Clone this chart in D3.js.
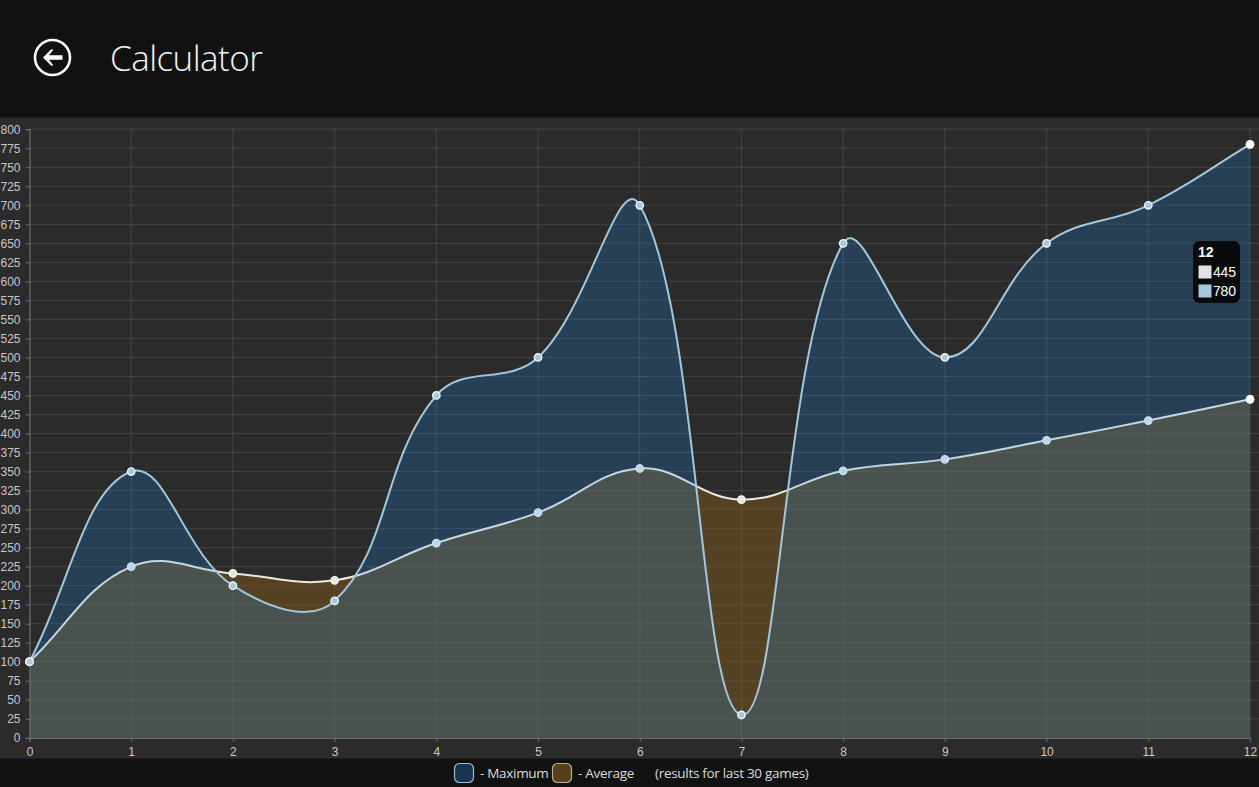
<!DOCTYPE html>
<html><head><meta charset="utf-8">
<script src="https://cdn.jsdelivr.net/npm/d3@7"></script>
<style>
html,body{margin:0;padding:0;background:#111;overflow:hidden}
svg{display:block}
</style></head><body>
<svg id="c" width="1259" height="787"></svg>
<script>
const titleText = "Calculator";
const categories = [0,1,2,3,4,5,6,7,8,9,10,11,12];
const maximumValues = [100,350,200,180,450,500,700,30,650,500,650,700,780];
const averageValues = [100,225,216,207,256,296,354,313,351,366,391,417,445];
const yTicks = d3.range(0,801,25);
const legendItems = ["- Maximum","- Average"];
const legendNote = "(results for last 30 games)";
const hoverIndex = 12;

const svg = d3.select("#c");
const x = d3.scaleLinear().domain([0,12]).range([29.5,1250]);
const y = d3.scaleLinear().domain([0,800]).range([737.8,129.2]);
const sans = "'Liberation Sans',Arial,sans-serif";
const ui = "'Open Sans',sans-serif";

svg.append("rect").attr("width",1259).attr("height",787).attr("fill","#111111");
svg.append("rect").attr("y",117.5).attr("width",1259).attr("height",641).attr("fill","#2b2b2b");

// header
svg.append("text").attr("x",110).attr("y",70.5).attr("fill","#f4f4f4")
  .style("font-family",ui).style("font-weight",300).style("font-size","35px").style("letter-spacing","-0.55px").text(titleText);
const back = svg.append("g").attr("transform","translate(52.5,57.5)");
back.append("circle").attr("r",17.5).attr("fill","none").attr("stroke","#fff").attr("stroke-width",2.6);
back.append("path").attr("d","M-9.5,0 L-1.5,-8 L1,-8 L-3.5,-2.2 L10,-2.2 L10,2.2 L-3.5,2.2 L1,8 L-1.5,8 Z").attr("fill","#fff");

// grid and axes
const gy = svg.append("g").attr("transform","translate(29.5,0)")
  .call(d3.axisLeft(y).tickValues(yTicks).tickSize(4).tickPadding(5));
const gx = svg.append("g").attr("transform","translate(0,737.8)")
  .call(d3.axisBottom(x).tickValues(categories).tickFormat(d3.format("d")).tickSize(4).tickPadding(6));
[gx,gy].forEach(g=>{
  g.selectAll("text").attr("fill","#c8c8c8").style("font-family",sans).style("font-size","12px");
  g.selectAll("line").attr("stroke","#6a6a6a");
  g.select(".domain").attr("stroke","#6f6f6f").attr("stroke-width",1.2);
});
const grid = svg.append("g");
grid.selectAll("line.h").data(yTicks.filter(d=>d>0)).join("line").attr("class","h")
  .attr("x1",x(0)).attr("x2",x(12)+9).attr("y1",d=>y(d)).attr("y2",d=>y(d))
  .attr("stroke","rgba(255,255,255,0.11)");
grid.selectAll("line.v").data(categories.slice(1)).join("line").attr("class","v")
  .attr("y1",y(800)).attr("y2",y(0)).attr("x1",d=>x(d)).attr("x2",d=>x(d))
  .attr("stroke","rgba(255,255,255,0.11)");

// tension spline
function tensionCurve(context){
  let pts=[];
  return {
    areaStart(){},areaEnd(){},
    lineStart(){pts=[];},
    point(px,py){pts.push([px,py]);},
    lineEnd(){
      const t=0.4,n=pts.length;
      const ctrl=pts.map((p,i)=>{
        const a=pts[Math.max(i-1,0)],b=pts[Math.min(i+1,n-1)];
        const d1=Math.hypot(p[0]-a[0],p[1]-a[1]),d2=Math.hypot(b[0]-p[0],b[1]-p[1]);
        const s=d1+d2||1,fa=t*d1/s,fb=t*d2/s;
        return {i:[p[0]-fa*(b[0]-a[0]),p[1]-fa*(b[1]-a[1])],o:[p[0]+fb*(b[0]-a[0]),p[1]+fb*(b[1]-a[1])]};
      });
      context.moveTo(pts[0][0],pts[0][1]);
      for(let k=1;k<n;k++){
        context.bezierCurveTo(ctrl[k-1].o[0],ctrl[k-1].o[1],ctrl[k].i[0],ctrl[k].i[1],pts[k][0],pts[k][1]);
      }
    }
  };
}
const line = d3.line().x((d,i)=>x(categories[i])).y(d=>y(d)).curve(tensionCurve);
function areaPath(vals){
  return line(vals)+"L"+x(12)+","+y(0)+"L"+x(0)+","+y(0)+"Z";
}
const series=[
 {vals:averageValues,fill:"rgba(128,90,30,0.5)",stroke:"#efe9dc",pt:"#e8e6e0"},
 {vals:maximumValues,fill:"rgba(23,148,255,0.2)",stroke:"#a3c8dc",pt:"#a6c9dd"}
];
// each series paints fill, line, points in turn, so the later translucent fill tints the earlier marks
series.forEach(s=>{
  svg.append("path").attr("d",areaPath(s.vals)).attr("fill",s.fill);
  svg.append("path").attr("d",line(s.vals)).attr("fill","none").attr("stroke",s.stroke).attr("stroke-width",2);
  svg.append("g").selectAll("circle").data(s.vals).join("circle")
    .attr("cx",(d,i)=>x(categories[i])).attr("cy",d=>y(d)).attr("r",3.7)
    .attr("fill",s.pt).attr("stroke","#eef3f6").attr("stroke-width",1.4);
});
// hovered points on top
svg.append("g").selectAll("circle").data(series).join("circle")
  .attr("cx",x(categories[hoverIndex])).attr("cy",s=>y(s.vals[hoverIndex])).attr("r",4.2).attr("fill","#ffffff");

// tooltip
const tip=svg.append("g");
tip.append("rect").attr("x",1193).attr("y",241).attr("width",47).attr("height",62).attr("rx",6).attr("fill","#070b0e");
tip.append("text").attr("x",1198).attr("y",257).attr("fill","#fff")
  .style("font-family",sans).style("font-weight",700).style("font-size","14px").text(categories[hoverIndex]);
[[averageValues,"#e2e2e2",265.5],[maximumValues,"#a3c6d9",284.5]].forEach(([v,c,ty])=>{
  tip.append("rect").attr("x",1198.5).attr("y",ty).attr("width",13).attr("height",13).attr("fill",c);
  tip.append("text").attr("x",1213).attr("y",ty+11).attr("fill","#fff")
    .style("font-family",sans).style("font-size","14px").style("letter-spacing","-0.2px").text(v[hoverIndex]);
});

// legend
const leg=[[454,"#173450","#a3c0d2",480],[552,"#55401a","#b9ad93",578]];
leg.forEach((l,i)=>{
  svg.append("rect").attr("x",l[0]+.5).attr("y",763.5).attr("width",19).attr("height",19).attr("rx",5)
    .attr("fill",l[1]).attr("stroke",l[2]).attr("stroke-width",1.2);
  svg.append("text").attr("x",l[3]).attr("y",778).attr("fill","#dcdcdc")
    .style("font-family",ui).style("font-size","13.5px").style("letter-spacing","-0.3px").text(legendItems[i]);
});
svg.append("text").attr("x",655).attr("y",778).attr("fill","#dcdcdc")
  .style("font-family",ui).style("font-size","13.5px").style("letter-spacing","-0.3px").text(legendNote);
</script>
</body></html>
